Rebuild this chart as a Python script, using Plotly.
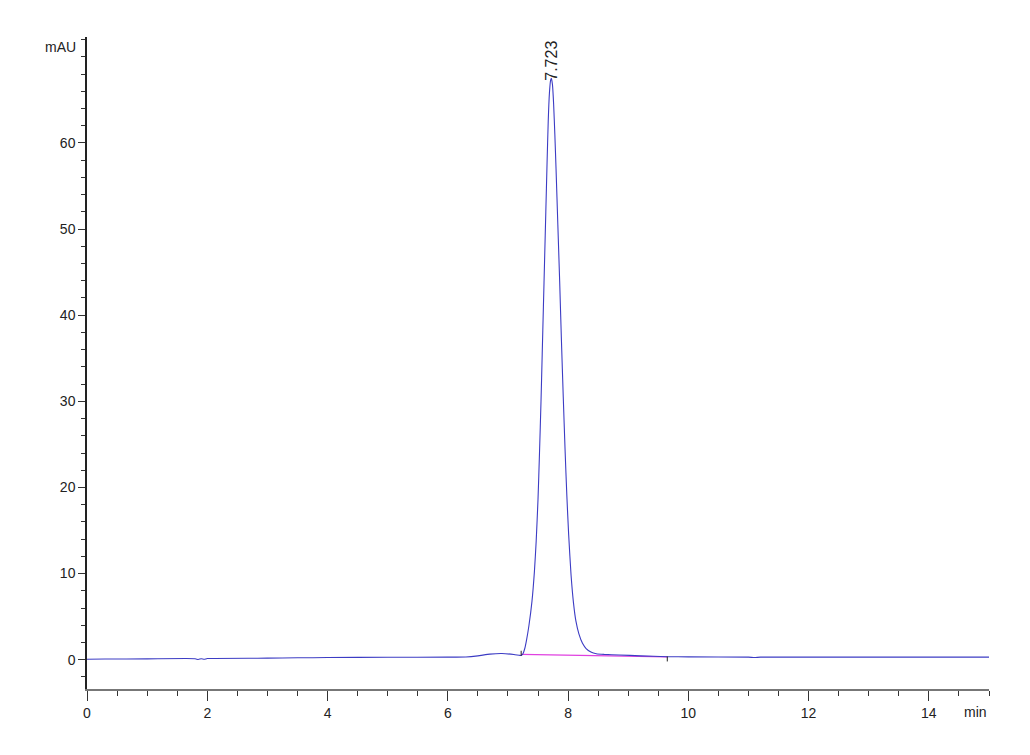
import plotly.graph_objects as go

# Chromatogram signal (time in min, absorbance in mAU)
time_min = [0.0, 0.3, 1.0, 1.8, 1.85, 1.9, 1.95, 2.0, 3.0, 3.5, 4.0, 5.0, 6.0, 6.3, 6.5, 6.7,
            6.9, 7.1, 7.2, 7.22, 7.25, 7.28, 7.31, 7.35, 7.40, 7.44, 7.47, 7.50, 7.525, 7.55,
            7.57, 7.59, 7.61, 7.63, 7.65, 7.67, 7.69, 7.71, 7.723, 7.74, 7.76, 7.78, 7.80,
            7.83, 7.86, 7.89, 7.92, 7.95, 7.98, 8.01, 8.05, 8.09, 8.13, 8.18, 8.24, 8.30,
            8.38, 8.47, 8.6, 8.85, 9.2, 9.65, 10.0, 11.0, 11.1, 11.2, 12.0, 13.0, 14.0, 15.0]
signal_mau = [0.05, 0.08, 0.1, 0.12, 0.02, 0.12, 0.05, 0.14, 0.18, 0.22, 0.25, 0.28, 0.3, 0.32,
              0.45, 0.65, 0.72, 0.6, 0.5, 0.5, 0.7, 1.3, 2.3, 4.0, 6.8, 10.2, 13.8, 18.6, 24.0,
              30.0, 35.5, 41.0, 46.5, 52.0, 57.5, 62.5, 65.8, 67.3, 67.5, 66.8, 64.5, 61.0,
              57.0, 50.5, 44.0, 37.0, 30.5, 24.4, 19.0, 14.5, 9.8, 6.6, 4.5, 3.0, 1.9, 1.3,
              0.9, 0.7, 0.62, 0.55, 0.45, 0.35, 0.33, 0.3, 0.25, 0.3, 0.3, 0.3, 0.3, 0.3]

# Integration baseline
baseline_t = [7.22, 9.65]
baseline_v = [0.62, 0.33]

# Integration start / end markers
start_tick_t = [7.22, 7.22]
start_tick_v = [0.46, 1.04]
end_tick_t = [9.65, 9.65]
end_tick_v = [-0.2, 0.38]

peak_rt = 7.723
peak_height = 67.5
peak_label = "7.723"

x_ticks = [0, 2, 4, 6, 8, 10, 12, 14]
y_ticks = [0, 10, 20, 30, 40, 50, 60]

FONT = "Liberation Sans, Arial, sans-serif"

fig = go.Figure()
fig.add_trace(go.Scatter(x=baseline_t, y=baseline_v, mode="lines",
                         line=dict(color="#e040e0", width=1.2), hoverinfo="skip"))
fig.add_trace(go.Scatter(x=time_min, y=signal_mau, mode="lines",
                         line=dict(color="#3c3cc4", width=1.1, shape="spline", smoothing=0.5)))
fig.add_trace(go.Scatter(x=start_tick_t, y=start_tick_v, mode="lines",
                         line=dict(color="#222222", width=1), hoverinfo="skip"))
fig.add_trace(go.Scatter(x=end_tick_t, y=end_tick_v, mode="lines",
                         line=dict(color="#222222", width=1), hoverinfo="skip"))

fig.add_annotation(x=peak_rt, y=peak_height, text=peak_label, textangle=-90,
                   showarrow=False, xanchor="center", yanchor="bottom", yshift=-4,
                   font=dict(family=FONT, size=16, color="#222222"))
fig.add_annotation(xref="paper", yref="paper", x=-0.010, y=0.985, text="mAU",
                   showarrow=False, xanchor="right", yanchor="middle",
                   font=dict(family=FONT, size=14, color="#222222"))
fig.add_annotation(xref="paper", yref="paper", x=1.0, y=-0.02, text="min",
                   showarrow=False, xanchor="right", yanchor="top",
                   font=dict(family=FONT, size=14, color="#222222"))

fig.update_layout(
    width=1030, height=755,
    margin=dict(l=79, r=49, t=29, b=74),
    paper_bgcolor="white", plot_bgcolor="white",
    showlegend=False,
    font=dict(family=FONT, size=14, color="#222222"),
    xaxis=dict(range=[0, 15], tickvals=x_ticks, ticks="outside", ticklen=10,
               tickcolor="#333333", showline=True, linecolor="#777777", linewidth=1.5,
               showgrid=False, zeroline=False,
               minor=dict(dtick=0.5, ticks="outside", ticklen=5, tickcolor="#333333"),
               tickfont=dict(size=14)),
    yaxis=dict(range=[-3.4, 72.3], tickvals=y_ticks, ticks="outside", ticklen=7,
               tickcolor="#333333", showline=True, linecolor="#222222", linewidth=1.5,
               showgrid=False, zeroline=False,
               minor=dict(dtick=2, ticks="outside", ticklen=4, tickcolor="#333333"),
               tickfont=dict(size=14)),
)

fig.write_html("out.html")
